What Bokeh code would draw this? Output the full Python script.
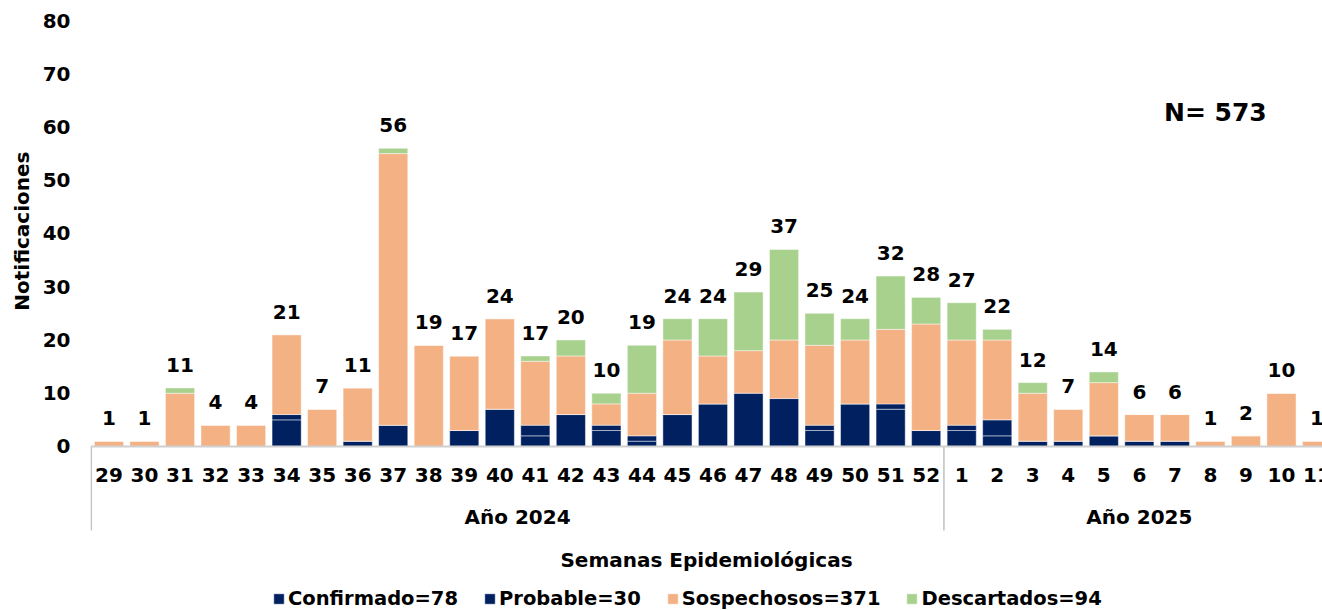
from bokeh.plotting import figure
from bokeh.models import ColumnDataSource, FixedTicker, Label, Legend, LegendItem, Range1d, Span, Title
from bokeh.core.properties import value
from bokeh.embed import file_html
from bokeh.resources import INLINE
import math

weeks = ["29", "30", "31", "32", "33", "34", "35", "36", "37", "38", "39", "40",
         "41", "42", "43", "44", "45", "46", "47", "48", "49", "50", "51", "52",
         "1", "2", "3", "4", "5", "6", "7", "8", "9", "10", "11"]
confirmado = [0, 0, 0, 0, 0, 5, 0, 1, 4, 0, 3, 7, 2, 6, 3, 1, 6, 8, 0, 0, 3, 8, 7, 3,
              3, 2, 1, 1, 2, 1, 1, 0, 0, 0, 0]
probable = [0, 0, 0, 0, 0, 1, 0, 0, 0, 0, 0, 0, 2, 0, 1, 1, 0, 0, 10, 9, 1, 0, 1, 0,
            1, 3, 0, 0, 0, 0, 0, 0, 0, 0, 0]
sospechosos = [1, 1, 10, 4, 4, 15, 7, 10, 51, 19, 14, 17, 12, 11, 4, 8, 14, 9, 8, 11, 15, 12, 14, 20,
               16, 15, 9, 6, 10, 5, 5, 1, 2, 10, 1]
descartados = [0, 0, 1, 0, 0, 0, 0, 0, 1, 0, 0, 0, 1, 3, 2, 9, 4, 7, 11, 17, 6, 4, 10, 5,
               7, 2, 2, 0, 2, 0, 0, 0, 0, 0, 0]
groups = ["Año 2024", "Año 2025"]
group_sizes = [24, 11]
y_ticks = [0, 10, 20, 30, 40, 50, 60, 70, 80]

NAVY = "#002060"
ORANGE = "#F4B183"
GREEN = "#A9D18E"
FONT = "DejaVu Sans"

x = list(range(len(weeks)))
totals = [c + p_ + s + d for c, p_, s, d in zip(confirmado, probable, sospechosos, descartados)]
src = ColumnDataSource(dict(
    x=x, confirmado=confirmado, probable=probable, sospechosos=sospechosos,
    descartados=descartados, total=totals, total_str=[str(t) for t in totals],
    week=weeks, zero=[0] * len(x),
))

starts = [sum(group_sizes[:i]) for i in range(len(group_sizes))]
g_src = ColumnDataSource(dict(
    x=[s + (n - 1) / 2 for s, n in zip(starts, group_sizes)],
    y=[0] * len(groups), text=groups,
))
sep_src = ColumnDataSource(dict(x=[s - 0.5 for s in starts], y=[0] * len(starts)))

x_start, x_end = -0.52, 34.155
p = figure(width=1322, height=610, x_range=Range1d(x_start, x_end), y_range=Range1d(-30.8, 80),
           output_backend="svg", toolbar_location=None, x_axis_location=None,
           min_border_left=90, min_border_right=0, min_border_top=20, min_border_bottom=0)
p.outline_line_color = None
p.grid.visible = False
p.background_fill_color = "white"

rs = p.vbar_stack(["confirmado", "probable", "sospechosos", "descartados"], x="x", width=0.82,
                  color=[NAVY, NAVY, ORANGE, GREEN], line_color="white", line_alpha=0.45,
                  line_width=1, source=src)

txt = dict(text_font=value(FONT), text_font_style="bold", text_color="black",
           text_align="center", text_baseline="middle")

# value labels
p.text(x="x", y="total", text="total_str", source=src, y_offset=-23, text_font_size="20px", **txt)

# x axis line, week labels, group separators, group labels, axis title
p.add_layout(Span(location=0, dimension="width", line_color="#D0D0D0", line_width=2))
p.text(x="x", y="zero", text="week", source=src, y_offset=29, text_font_size="20px", **txt)
p.ray(x="x", y="y", source=sep_src, length=84, length_units="screen", angle=-math.pi / 2,
      line_color="#BFBFBF", line_width=1.5)
p.text(x="x", y="y", text="text", source=g_src, y_offset=71, text_font_size="20px", **txt)
p.text(x=[(x_start + x_end) / 2], y=[0], text=["Semanas Epidemiológicas"], y_offset=114,
       text_font_size="20px", **txt)

# N label
p.add_layout(Label(x=31.14, y=62.66, text=f"N= {sum(totals)}", text_align="center",
                   text_baseline="middle", text_font=FONT, text_font_style="bold",
                   text_font_size="25px", text_color="black"))

# y axis
p.yaxis.ticker = FixedTicker(ticks=y_ticks)
p.yaxis.axis_line_color = None
p.yaxis.major_tick_line_color = None
p.yaxis.minor_tick_line_color = None
p.yaxis.major_label_text_font = FONT
p.yaxis.major_label_text_font_style = "bold"
p.yaxis.major_label_text_font_size = "20px"
p.yaxis.major_label_text_color = "black"
p.yaxis.major_label_standoff = 14

ytitle = Title(text="Notificaciones", align="right", offset=131, text_font=FONT,
               text_font_style="bold", text_font_size="20px", text_color="black", standoff=12)
p.add_layout(ytitle, "left")

legend = Legend(items=[
    LegendItem(label=f"Confirmado={sum(confirmado)}", renderers=[rs[0]]),
    LegendItem(label=f"Probable={sum(probable)}", renderers=[rs[1]]),
    LegendItem(label=f"Sospechosos={sum(sospechosos)}", renderers=[rs[2]]),
    LegendItem(label=f"Descartados={sum(descartados)}", renderers=[rs[3]]),
], orientation="horizontal", location=(182, 0))
legend.label_text_font = FONT
legend.label_text_font_style = "bold"
legend.label_text_font_size = "19.5px"
legend.label_text_color = "black"
legend.glyph_width = 13
legend.glyph_height = 13
legend.label_standoff = 3
legend.spacing = 25
legend.padding = 0
legend.margin = 0
legend.border_line_color = None
legend.background_fill_alpha = 0
p.add_layout(legend)

open("out.html", "w").write(file_html(p, INLINE))
